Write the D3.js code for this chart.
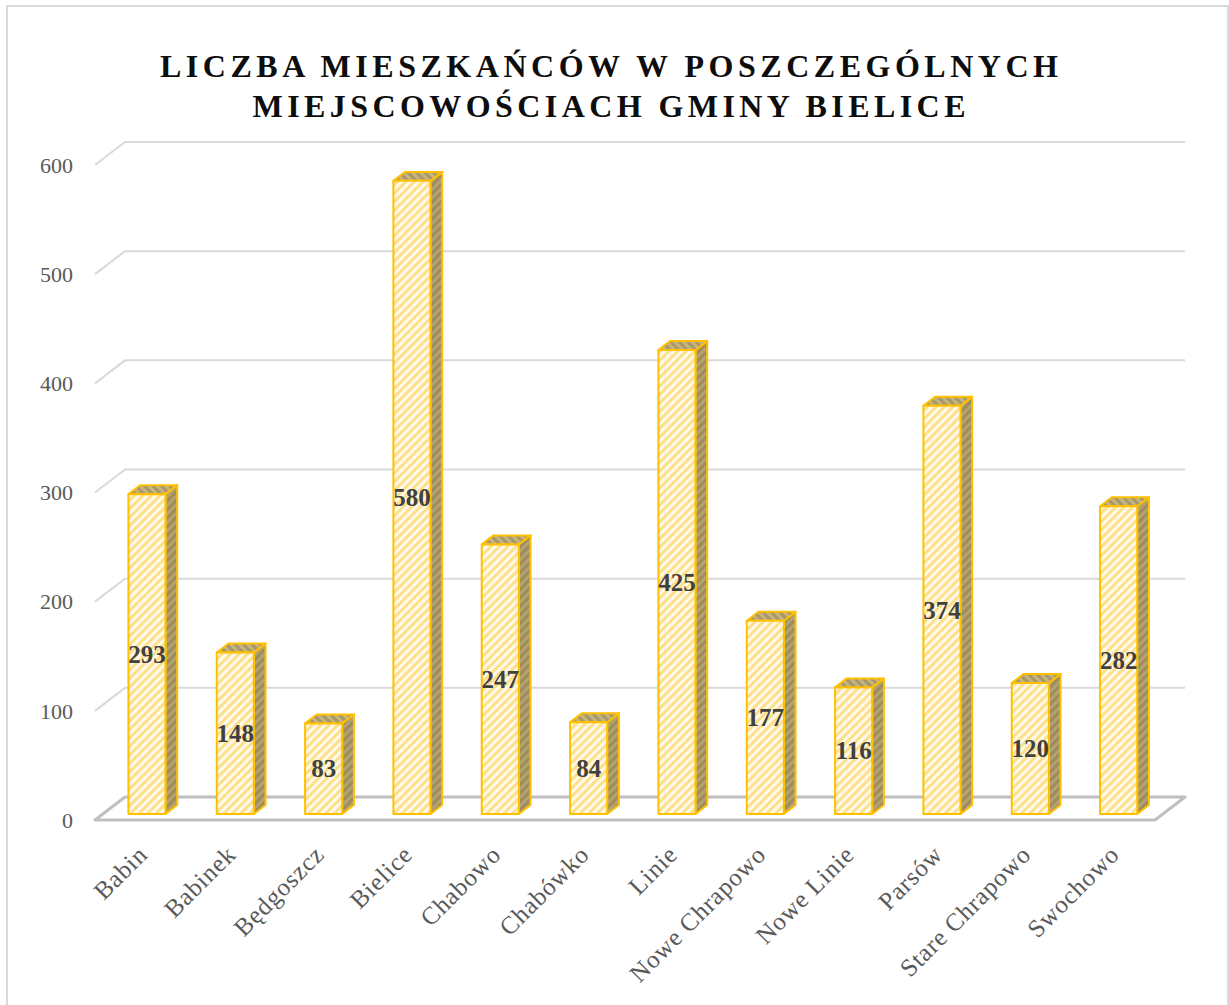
<!DOCTYPE html>
<html>
<head>
<meta charset="utf-8">
<script src="https://cdn.jsdelivr.net/npm/d3@7"></script>
<style>
  body { margin: 0; background: #fff; }
  text { font-family: "Liberation Serif", "DejaVu Serif", serif; }
</style>
</head>
<body>
<svg id="chart"></svg>
<script>
const width = 1229;
const height = 1005;

const categories = ['Babin', 'Babinek', 'Będgoszcz', 'Bielice', 'Chabowo', 'Chabówko', 'Linie',
    'Nowe Chrapowo', 'Nowe Linie', 'Parsów', 'Stare Chrapowo', 'Swochowo'];
const values = [293, 148, 83, 580, 247, 84, 425, 177, 116, 374, 120, 282];
const yTicks = [0, 100, 200, 300, 400, 500, 600];
const titleLines = ['LICZBA MIESZKAŃCÓW W POSZCZEGÓLNYCH', 'MIEJSCOWOŚCIACH GMINY BIELICE'];

// depth of the 3d floor (back plane offset)
const depthX = 30, depthY = 23;
const z0 = 0.26, z1 = 0.65; // bar front/back depth

const svg = d3.select("#chart")
    .attr("width", width)
    .attr("height", height);

const x = d3.scaleBand()
    .domain(categories)
    .range([95, 1155])
    .paddingInner(0.58)
    .paddingOuter(0.29);

const y = d3.scaleLinear()
    .domain([0, 600])
    .range([820, 165]);

// patterns
const defs = svg.append("defs");
function stripes(id, bg, fg, angle) {
    const p = defs.append("pattern")
        .attr("id", id)
        .attr("patternUnits", "userSpaceOnUse")
        .attr("width", 6).attr("height", 6)
        .attr("patternTransform", `rotate(${angle})`);
    p.append("rect").attr("width", 6).attr("height", 6).attr("fill", bg);
    p.append("rect").attr("width", 3).attr("height", 6).attr("fill", fg);
}
stripes("front", "#fffaeb", "#ffe08a", 45);
stripes("side", "#9e8c5c", "#b3a272", 45);
stripes("top", "#a8976a", "#c6b47e", -45);

// border
svg.append("rect")
    .attr("x", 7).attr("y", 6)
    .attr("width", 1221).attr("height", 1010)
    .attr("fill", "none")
    .attr("stroke", "#d9d9d9")
    .attr("stroke-width", 2);

// title
svg.append("g")
    .selectAll("text")
    .data(titleLines)
    .join("text")
    .attr("x", 609)
    .attr("y", (d, i) => 77 + i * 40)
    .attr("text-anchor", "middle")
    .attr("font-size", 32)
    .attr("font-weight", "bold")
    .attr("fill", "#0d0d0d")
    .attr("textLength", (d, i) => i === 0 ? 898 : 713)
    .attr("lengthAdjust", "spacing")
    .text(d => d);

// gridlines (back wall + left side)
const x0 = x.range()[0], x1 = x.range()[1];
svg.append("g")
    .selectAll("path")
    .data(yTicks.filter(t => t > 0))
    .join("path")
    .attr("d", t => `M${x0},${y(t)}L${x0 + depthX},${y(t) - depthY}H${x1 + depthX}`)
    .attr("fill", "none")
    .attr("stroke", "#d9d9d9")
    .attr("stroke-width", 2);

// floor
svg.append("path")
    .attr("d", `M${x0},${y(0)}L${x0 + depthX},${y(0) - depthY}H${x1 + depthX}L${x1},${y(0)}Z`)
    .attr("fill", "none")
    .attr("stroke", "#bfbfbf")
    .attr("stroke-width", 3)
    .attr("stroke-linejoin", "round");

// y labels
svg.append("g")
    .selectAll("text")
    .data(yTicks)
    .join("text")
    .attr("x", 73)
    .attr("y", t => y(t))
    .attr("dy", "0.35em")
    .attr("text-anchor", "end")
    .attr("font-size", 22)
    .attr("fill", "#595959")
    .text(t => t);

// bars
const data = categories.map((c, i) => ({ name: c, value: values[i] }));
const dx0 = depthX * z0, dy0 = depthY * z0, dx1 = depthX * z1, dy1 = depthY * z1;
const bw = x.bandwidth();

const bar = svg.append("g")
    .selectAll("g")
    .data(data)
    .join("g")
    .attr("stroke", "#ffc000")
    .attr("stroke-width", 2)
    .attr("stroke-linejoin", "round");

bar.append("path")
    .attr("fill", "url(#side)")
    .attr("d", d => {
        const xr = x(d.name) + bw;
        return `M${xr + dx0},${y(d.value) - dy0}L${xr + dx1},${y(d.value) - dy1}` +
            `L${xr + dx1},${y(0) - dy1}L${xr + dx0},${y(0) - dy0}Z`;
    });

bar.append("path")
    .attr("fill", "url(#top)")
    .attr("d", d => {
        const xl = x(d.name), yt = y(d.value);
        return `M${xl + dx0},${yt - dy0}L${xl + dx1},${yt - dy1}` +
            `L${xl + bw + dx1},${yt - dy1}L${xl + bw + dx0},${yt - dy0}Z`;
    });

bar.append("rect")
    .attr("fill", "url(#front)")
    .attr("x", d => x(d.name) + dx0)
    .attr("y", d => y(d.value) - dy0)
    .attr("width", bw)
    .attr("height", d => y(0) - y(d.value));

// value labels
svg.append("g")
    .selectAll("text")
    .data(data)
    .join("text")
    .attr("x", d => x(d.name) + dx0 + bw / 2)
    .attr("y", d => (y(d.value) + y(0)) / 2 - dy0)
    .attr("dy", "0.35em")
    .attr("text-anchor", "middle")
    .attr("font-size", 25)
    .attr("font-weight", "bold")
    .attr("fill", "#404040")
    .text(d => d.value);

// category labels
svg.append("g")
    .selectAll("text")
    .data(categories)
    .join("text")
    .attr("text-anchor", "end")
    .attr("transform", d => `translate(${x(d) + dx0 + bw / 2 + 2},856) rotate(-45)`)
    .attr("font-size", 25)
    .attr("letter-spacing", 0.8)
    .attr("fill", "#595959")
    .text(d => d);
</script>
</body>
</html>
